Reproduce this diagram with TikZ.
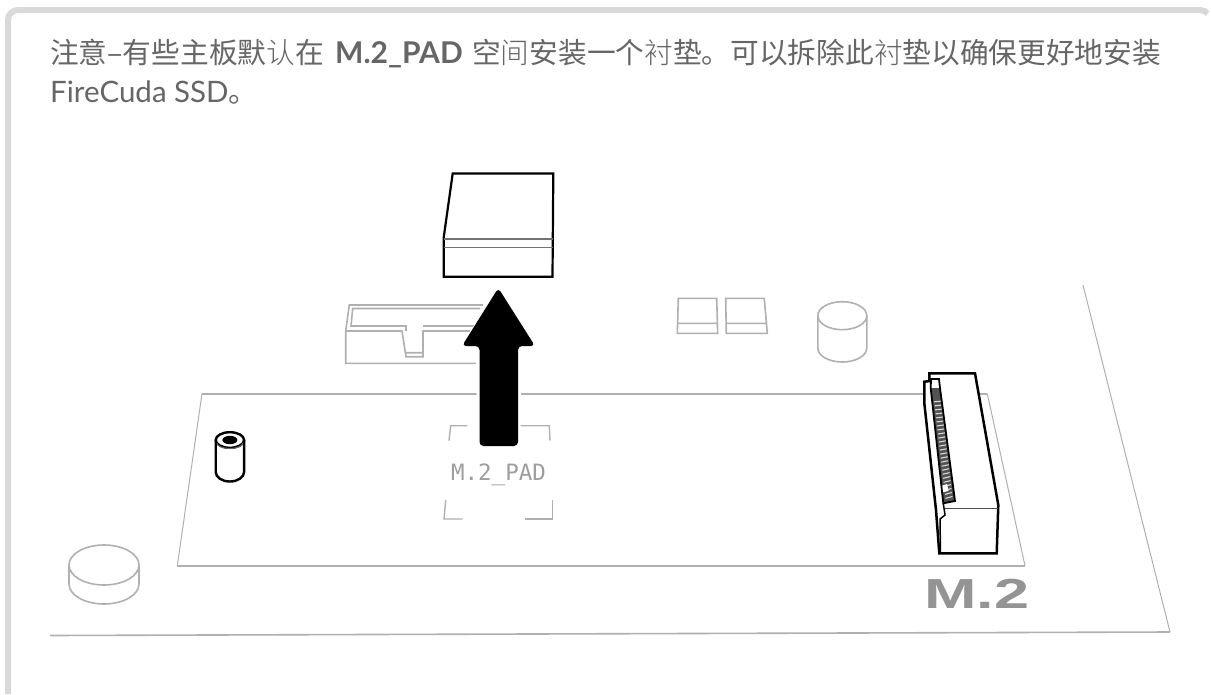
\documentclass[tikz,border=0pt]{standalone}
\usepackage{fontspec}
\setmainfont{Lato}
\newfontfamily\cjk{Noto Sans CJK SC}
\newfontfamily\cjkl{Noto Sans CJK SC Light}
\newfontfamily\monof{DejaVu Sans Mono}
\newfontfamily\heavy{Liberation Sans}
\definecolor{txt}{HTML}{666666}
\definecolor{frame}{HTML}{D9D9D9}
\definecolor{ln}{HTML}{B0B0B0}
\tikzset{
  para/.style={anchor=base west,inner sep=0pt,text=txt,font=\fontsize{28.7}{32}\selectfont},
  greyline/.style={draw=ln,line width=1.6pt},
  thinline/.style={draw=ln,line width=1pt},
  thickline/.style={draw=ln,line width=1.6pt},
  dark/.style={draw=black,line width=2.2pt,line join=miter},
  padmark/.style={draw=ln,line width=1.4pt},
}
\begin{document}
\begin{tikzpicture}[x=1pt,y=-1pt]
\useasboundingbox (0,0) rectangle (1211,694);
\fill[white] (0,0) rectangle (1211,694);
% frame
\draw[frame,line width=6pt] (8,694) -- (8,20) arc[start angle=180,end angle=270,radius=10] -- (1200,10) arc[start angle=-90,end angle=-40,radius=10];
% text
\node[para] (t1) at (50,63) {\cjk 注意–有些主板默\cjkl 认\cjk 在};
\node[para,font=\fontsize{30}{32}\selectfont\bfseries] (t2) at (335,63) {M.2\_PAD};
\node[para] (t3) at (472,63) {\cjk 空\cjkl 间\cjk 安装一个\cjkl 衬\cjk 垫。可以拆除此\cjkl 衬\cjk 垫以确保更好地安装};
\node[para,font=\fontsize{29.5}{32}\selectfont] (t4) at (50,102) {FireCuda SSD\cjk 。};
% surface
\draw[thinline] (1170,632) -- (1083,285);
\draw[thickline] (50,635.5) -- (1170,632);
% board
\draw[thinline] (177.3,565.7) -- (202,393.7) (987.3,393.7) -- (1025,565.7);
\draw[thickline] (1025,565.7) -- (177.3,565.7) (202,393.7) -- (987.3,393.7);
% slot
\draw[greyline,line join=miter]
 (483,305) -- (349.3,305) -- (345.7,331) -- (345.7,363.3) -- (476,363.3)
 (345.7,331) -- (402,331) -- (406,356.7) -- (423,356.7) -- (423,331) -- (470,331)
 (480,308.5) -- (352.7,308.5) -- (351,326) -- (406,326) -- (406,331)
 (423,326) -- (475,326)
 (406,352.7) -- (423,352.7);
% arrow
\draw[white,line width=6pt,line join=round] (498.3,293) -- (531,345) -- (518,345) -- (518,446) -- (479.5,446) -- (479.5,345) -- (465,345) -- cycle;
\fill[black,rounded corners=4pt] (498.3,288) -- (535,346) -- (518,346) -- (518,446) -- (479.5,446) -- (479.5,346) -- (462,346) -- cycle;
% block
\draw[dark] (452.7,173.5) -- (553.3,173.5) -- (552.5,276.7) -- (443.7,276.7) -- (443.7,237.5) -- cycle;
\draw[draw=black!55,line width=1.5pt] (443.7,239) -- (552.5,239) (443.7,247.7) -- (552.5,247.7);
% squares
\draw[greyline] (678.3,298.3) -- (716.7,298.3) -- (717.7,333.3) -- (677.3,333.3) -- cycle (677.3,323.3) -- (717.7,323.3);
\draw[greyline] (725.7,298.3) -- (764.3,298.3) -- (767.3,333.3) -- (726.3,333.3) -- cycle (726.3,323.3) -- (767.3,323.3);
% tall cylinder
\draw[greyline] (842.3,315.7) ellipse[x radius=24.5,y radius=14];
\draw[greyline] (817.8,315.7) -- (817.8,348) arc[start angle=180,end angle=0,x radius=24.5,y radius=14] -- (866.8,315.7);
% disc
\draw[thickline] (104,565) ellipse[x radius=35,y radius=20];
\draw[thickline] (69,565) -- (69,584) arc[start angle=180,end angle=0,x radius=35,y radius=20] -- (139,565);
% standoff
\draw[black,line width=2.4pt] (215.7,440) -- (215.7,472) arc[start angle=180,end angle=0,x radius=14.2,y radius=9.5] -- (244.1,440) ;
\draw[black,line width=2.4pt] (229.9,440) ellipse[x radius=14.2,y radius=7.8];
\fill[black] (229.9,440) ellipse[x radius=7.5,y radius=4.2];
\draw[black!60,line width=1pt] (217,443) arc[start angle=180,end angle=0,x radius=12.9,y radius=5.5];
% pad marks
\draw[padmark] (449,440.7) -- (450.7,425.7) -- (467.3,425.7);
\draw[padmark] (520.7,425.7) -- (549.3,425.7) -- (550,440.7);
\draw[padmark] (445.7,500) -- (444,519) -- (462.7,519);
\draw[padmark] (525,519) -- (552.3,519) -- (552.3,500);
\node[anchor=base,inner sep=0pt,text=black!38,font=\monof\fontsize{22.5}{24}\selectfont] (pad) at (498.5,480.5) {M.2\_PAD};
% M.2 label
\node[anchor=base west,inner sep=0pt,text=black!42] (m2) at (924,608.5) {\scalebox{1.5}[1]{\heavy\bfseries\fontsize{42}{44}\selectfont M.2}};
% connector
\fill[white] (929.3,373.3) -- (975,373.3) -- (998.3,505) -- (996.7,553.3) -- (939.3,553.3) -- (924,403) -- (924.3,381.7) -- cycle;
\draw[dark,line width=2.5pt] (929.3,381) -- (929.3,373.3) -- (975,373.3) -- (998.3,505) -- (996.7,553.3) -- (939.3,553.3) -- (936,510) -- (924.3,403) -- (924.3,381.7) -- (930,381);
\draw[black!70,line width=1.5pt] (945,508.3) -- (998.3,508.3);
\fill[black!68] (930.7,388) -- (940,388) -- (955,501) -- (943.3,503.3) -- cycle;
\foreach \t in {0.12,0.155,...,0.97}{
  \draw[white!85!black,line width=1.1pt] ({932.5+\t*13.5},{388+\t*115}) -- ({939.5+\t*13.5},{387.5+\t*113.5});
}
\fill[white] (941,486) -- (947,484) -- (948.5,491) -- (942,492.5) -- cycle;
\draw[black,line width=1.8pt] (930.7,388) -- (943.3,503.3) -- (955,501) -- (940,388) -- (939,379) -- (931,379) -- (930.7,388);
\draw[black,line width=1.5pt] (943.3,503.3) -- (945,515) -- (940,519) -- (940.5,553);
\end{tikzpicture}
\end{document}
